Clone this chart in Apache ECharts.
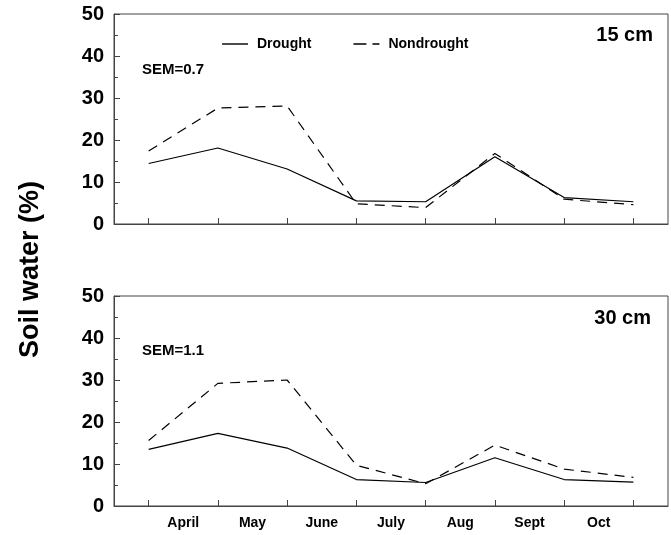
<!DOCTYPE html>
<html>
<head>
<meta charset="utf-8">
<script src="https://cdn.jsdelivr.net/npm/echarts@6/dist/echarts.min.js"></script>
<style>
html,body{margin:0;padding:0;background:#fff;}
#c{width:671px;height:535px;}
</style>
</head>
<body>
<div id="c"></div>
<script>
// Sampling points (start of each month, April through November)
var points = ['Apr', 'May', 'Jun', 'Jul', 'Aug', 'Sep', 'Oct', 'Nov'];
// Month labels shown between sampling points
var monthLabels = ['April', 'May', 'June', 'July', 'Aug', 'Sept', 'Oct'];
var yTicks = [0, 10, 20, 30, 40, 50];

var drought15 = [14.4, 18.1, 13.1, 5.5, 5.3, 16.0, 6.3, 5.3];
var nondrought15 = [17.4, 27.6, 28.1, 4.8, 3.9, 16.8, 5.9, 4.6];
var drought30 = [13.5, 17.3, 13.8, 6.3, 5.6, 11.5, 6.3, 5.7];
var nondrought30 = [15.6, 29.2, 30.0, 9.7, 5.3, 14.5, 8.8, 6.8];

var depthLabels = ['15 cm', '30 cm'];
var semLabels = ['SEM=0.7', 'SEM=1.1'];
var yTitle = 'Soil water (%)';

var FONT = 'Liberation Sans, Arial, sans-serif';
var AX = '#444';

var chart = echarts.init(document.getElementById('c'), null, {renderer: 'canvas'});

var grids = [
  {left: 114, width: 554, top: 14, height: 210, show: true, borderColor: AX, borderWidth: 1},
  {left: 114, width: 554, top: 296, height: 210, show: true, borderColor: AX, borderWidth: 1}
];

function catAxis(gi) {
  return {
    type: 'category', gridIndex: gi, data: points, boundaryGap: true,
    axisLine: {show: true, lineStyle: {color: AX, width: 1}},
    axisTick: {show: true, inside: true, length: 6, alignWithLabel: true, interval: 0, lineStyle: {color: AX}},
    axisLabel: {show: false},
    splitLine: {show: false}
  };
}
function labelAxis(gi) {
  return {
    type: 'value', gridIndex: gi, min: 0, max: points.length, interval: 1,
    position: 'bottom',
    axisLine: {show: false}, axisTick: {show: false}, splitLine: {show: false},
    axisLabel: {
      show: gi === 1, margin: 10, color: '#000', fontFamily: FONT, fontWeight: 'bold', fontSize: 14,
      formatter: function (v) { var i = Math.round(v) - 1; return (i >= 0 && i < monthLabels.length) ? monthLabels[i] : ''; }
    }
  };
}
function valAxis(gi) {
  return {
    type: 'value', gridIndex: gi, min: yTicks[0], max: yTicks[yTicks.length - 1], interval: 10,
    axisLine: {show: true, lineStyle: {color: AX, width: 1}},
    axisTick: {show: true, inside: true, length: 6, lineStyle: {color: AX}},
    minorTick: {show: true, splitNumber: 2, length: 4, lineStyle: {color: AX}},
    splitLine: {show: false},
    axisLabel: {margin: 10, color: '#000', fontFamily: FONT, fontWeight: 'bold', fontSize: 20}
  };
}

function lineSeries(name, data, xi, yi, dashed) {
  return {
    name: name, type: 'line', xAxisIndex: xi, yAxisIndex: yi, data: data,
    symbol: 'none', showSymbol: false, silent: true, animation: false,
    lineStyle: {color: '#000', width: 1.2, type: dashed ? [10, 7] : 'solid'},
    itemStyle: {color: '#000'}
  };
}

var option = {
  animation: false,
  backgroundColor: '#fff',
  grid: grids,
  xAxis: [catAxis(0), catAxis(1), labelAxis(0), labelAxis(1)],
  yAxis: [valAxis(0), valAxis(1)],
  legend: {
    data: [
      {name: 'Drought', icon: 'path://M0,0h26v1.4h-26z'},
      {name: 'Nondrought', icon: 'path://M0,0h13v1.4h-13z M19,0h7v1.4h-7z'}
    ],
    left: 217, top: 32, itemWidth: 26, itemHeight: 1.4, itemGap: 42,
    itemStyle: {color: '#000', borderWidth: 0},
    textStyle: {color: '#000', fontFamily: FONT, fontWeight: 'bold', fontSize: 14, padding: [0, 0, 0, 4]}
  },
  graphic: [
    {type: 'text', x: 17, y: 358, rotation: Math.PI / 2, style: {text: yTitle, fill: '#000', font: 'bold 27px ' + FONT}},
    {type: 'text', right: 18, top: 25, style: {text: depthLabels[0], fill: '#000', font: 'bold 20px ' + FONT}},
    {type: 'text', right: 20, top: 308, style: {text: depthLabels[1], fill: '#000', font: 'bold 20px ' + FONT}},
    {type: 'text', left: 142, top: 62, style: {text: semLabels[0], fill: '#000', font: 'bold 15px ' + FONT}},
    {type: 'text', left: 142, top: 343, style: {text: semLabels[1], fill: '#000', font: 'bold 15px ' + FONT}}
  ],
  series: [
    lineSeries('Drought', drought15, 0, 0, false),
    lineSeries('Nondrought', nondrought15, 0, 0, true),
    lineSeries('Drought', drought30, 1, 1, false),
    lineSeries('Nondrought', nondrought30, 1, 1, true)
  ]
};
chart.setOption(option);
</script>
</body>
</html>
